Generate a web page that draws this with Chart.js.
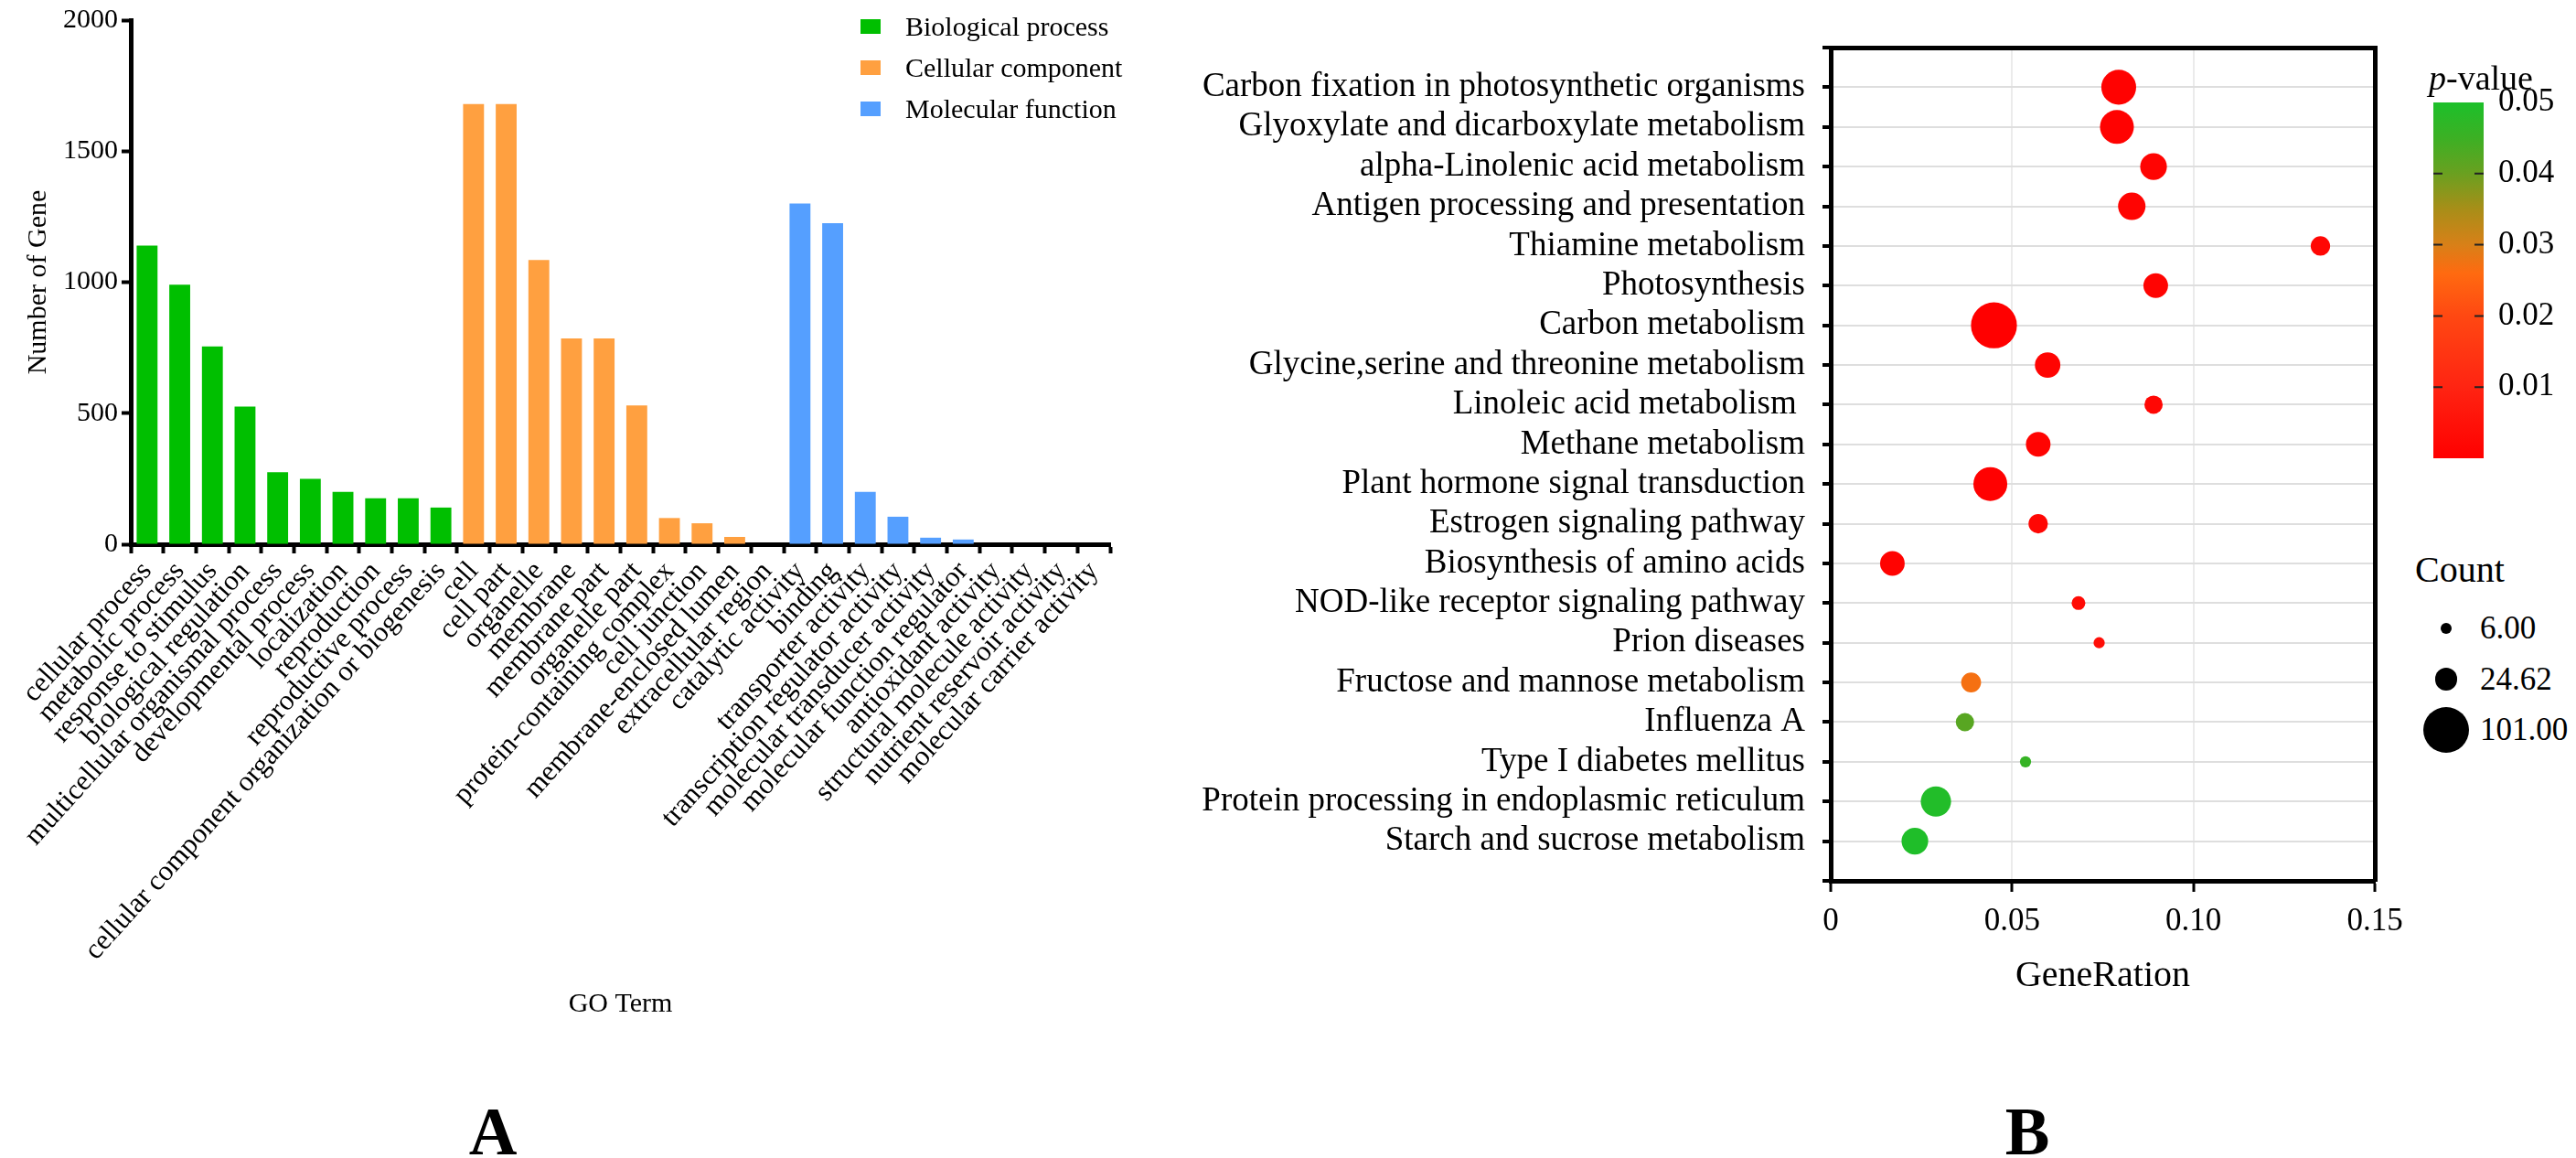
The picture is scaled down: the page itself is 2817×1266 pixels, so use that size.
<!DOCTYPE html>
<html>
<head>
<meta charset="utf-8">
<title>GO and KEGG</title>
<script src="https://cdn.jsdelivr.net/npm/chart.js@4.4.1/dist/chart.umd.min.js"></script>
<style>
  html, body { margin: 0; padding: 0; background: #fff; }
  body { width: 2817px; height: 1266px; position: relative; overflow: hidden;
         font-family: 'Liberation Serif', 'Times New Roman', serif; color: #000; }
  canvas { position: absolute; }
  #goChart { left: 0; top: 0; }
  #keggChart { left: 1230px; top: 0; }
  #pBar { left: 2640px; top: 60px; }
  .abs { position: absolute; white-space: nowrap; }
  .panel { font-size: 73px; font-weight: bold; line-height: 1; transform: translate(-50%, -50%); }
  .legRow { position: absolute; left: 0; height: 45px; line-height: 45px; font-size: 30px; }
  .legBox { position: absolute; left: 0; top: 15px; width: 22px; height: 16px; }
  .legText { position: absolute; left: 49px; top: 0; }
</style>
</head>
<body>
<canvas id="goChart" width="1240" height="1140"></canvas>
<div id="goLegend" class="abs" style="left:941px; top:6px;"></div>
<canvas id="keggChart" width="1410" height="1110"></canvas>
<canvas id="pBar" width="170" height="470"></canvas>
<div class="abs" style="left:2656px; top:62px; font-size:38px; line-height:46px;"><i>p</i>-value</div>
<div class="abs" style="left:2641px; top:599px; font-size:40px; line-height:48px;">Count</div>
<div id="countLegend"></div>
<div class="abs panel" style="left:539px; top:1237px;">A</div>
<div class="abs panel" style="left:2217px; top:1237px;">B</div>

<script>
// ---- panel A: GO terms ----
const termsBP = ["cellular process", "metabolic process", "response to stimulus", "biological regulation",
  "multicellular organismal process", "developmental process", "localization", "reproduction",
  "reproductive process", "cellular component organization or biogenesis"];
const countsBP = [1140, 990, 755, 525, 275, 250, 200, 175, 175, 140];

const termsCC = ["cell", "cell part", "organelle", "membrane", "membrane part", "organelle part",
  "protein-containing complex", "cell junction", "membrane-enclosed lumen", "extracellular region"];
const countsCC = [1680, 1680, 1085, 785, 785, 530, 100, 80, 28, 0];

const termsMF = ["catalytic activity", "binding", "transporter activity", "transcription regulator activity",
  "molecular transducer activity", "molecular function regulator", "antioxidant activity",
  "structural molecule activity", "nutrient reservoir activity", "molecular carrier activity"];
const countsMF = [1300, 1225, 200, 105, 25, 18, 0, 0, 0, 0];

const goTicks = [0, 500, 1000, 1500, 2000];

// ---- panel B: KEGG enrichment ----
const pathways = ["Carbon fixation in photosynthetic organisms", "Glyoxylate and dicarboxylate metabolism",
  "alpha-Linolenic acid metabolism", "Antigen processing and presentation", "Thiamine metabolism",
  "Photosynthesis", "Carbon metabolism", "Glycine,serine and threonine metabolism",
  "Linoleic acid metabolism ", "Methane metabolism", "Plant hormone signal transduction",
  "Estrogen signaling pathway", "Biosynthesis of amino acids", "NOD-like receptor signaling pathway",
  "Prion diseases", "Fructose and mannose metabolism", "Influenza A", "Type I diabetes mellitus",
  "Protein processing in endoplasmic reticulum", "Starch and sucrose metabolism"];
const geneRatio = [0.0794, 0.0789, 0.089, 0.083, 0.135, 0.0896, 0.045, 0.0598, 0.089, 0.0572,
  0.044, 0.0572, 0.017, 0.0683, 0.074, 0.0387, 0.037, 0.0537, 0.029, 0.0232];
const geneCount = [58, 55, 34, 36, 18, 29, 101, 31, 16, 29, 55, 18, 29, 9, 6, 19, 16, 6, 44, 34];
const pValue = [0.0005, 0.0006, 0.001, 0.001, 0.002, 0.001, 0.0001, 0.001, 0.002, 0.001,
  0.0004, 0.002, 0.0008, 0.003, 0.004, 0.027, 0.042, 0.046, 0.049, 0.0495];
const ratioTickLabels = ["0", "0.05", "0.10", "0.15"];
const pTickLabels = ["0.01", "0.02", "0.03", "0.04", "0.05"];
const countLegend = [6.00, 24.62, 101.00];

// colour ramp of the p-value bar (style)
const pStops = [[0, "#ff0000"], [0.01, "#ff2412"], [0.02, "#ff4812"], [0.026, "#ff6a10"],
  [0.03, "#d88018"], [0.035, "#a88e18"], [0.04, "#6aa020"], [0.045, "#3cb024"], [0.05, "#1cc02a"]];

Chart.defaults.font.family = "'Liberation Serif', 'Times New Roman', serif";
Chart.defaults.color = "#000";

function hex(c) { return [1, 3, 5].map(i => parseInt(c.substr(i, 2), 16)); }
function pColor(p) {
  for (let i = 1; i < pStops.length; i++) {
    if (p <= pStops[i][0]) {
      const [p0, c0] = pStops[i - 1], [p1, c1] = pStops[i];
      const t = (p - p0) / (p1 - p0), a = hex(c0), b = hex(c1);
      return "rgb(" + a.map((v, k) => Math.round(v + (b[k] - v) * t)).join(",") + ")";
    }
  }
  return pStops[pStops.length - 1][1];
}
function bubbleR(n) { return 2.5 * Math.sqrt(n); }

// ---------- chart A ----------
const goLabels = termsBP.concat(termsCC, termsMF);
function place(vals, before, total) {
  const out = new Array(total).fill(null);
  vals.forEach((v, i) => { out[before + i] = v; });
  return out;
}

const goChart = new Chart(document.getElementById("goChart"), {
  type: "bar",
  data: {
    labels: goLabels,
    datasets: [
      { label: "Biological process", data: place(countsBP, 0, goLabels.length), backgroundColor: "#00bf00" },
      { label: "Cellular component", data: place(countsCC, termsBP.length, goLabels.length), backgroundColor: "#ffa040" },
      { label: "Molecular function", data: place(countsMF, termsBP.length + termsCC.length, goLabels.length), backgroundColor: "#559fff" },
    ],
  },
  options: {
    responsive: false,
    animation: false,
    layout: { padding: { left: 0, top: 21, right: 26, bottom: 0 } },
    plugins: { legend: { display: false }, tooltip: { enabled: false } },
    datasets: { bar: { grouped: false, barPercentage: 0.64, categoryPercentage: 1, borderWidth: 0 } },
    scales: {
      x: {
        type: "category",
        offset: true,
        grid: { drawOnChartArea: false, tickLength: 10, tickWidth: 4, tickColor: "#000" },
        border: { width: 5, color: "#000" },
        ticks: { autoSkip: false, maxRotation: 48, minRotation: 48, padding: 2, font: { size: 31 } },
        title: { display: true, text: "GO Term", font: { size: 30 }, padding: { top: 0, bottom: 24 } },
        afterFit: (s) => { s.height = 545; },
      },
      y: {
        min: goTicks[0],
        max: goTicks[goTicks.length - 1],
        afterBuildTicks: (s) => { s.ticks = goTicks.map(v => ({ value: v })); },
        ticks: { padding: 4, font: { size: 30 }, callback: (v) => String(v) },
        grid: { drawOnChartArea: false, tickLength: 10, tickWidth: 4, tickColor: "#000" },
        border: { width: 5, color: "#000" },
        title: { display: true, text: "Number of Gene", font: { size: 30 }, padding: { top: 24, bottom: 0 } },
        afterFit: (s) => { s.width = 143; },
      },
    },
  },
});

// html legend for A, built from the datasets
const legEl = document.getElementById("goLegend");
goChart.data.datasets.forEach((ds, i) => {
  const row = document.createElement("div");
  row.className = "legRow";
  row.style.top = (i * 45) + "px";
  row.innerHTML = '<span class="legBox" style="background:' + ds.backgroundColor + '"></span>' +
    '<span class="legText">' + ds.label + "</span>";
  legEl.appendChild(row);
});

// ---------- chart B ----------
const bubbles = pathways.map((name, i) => ({ x: geneRatio[i], y: i, r: bubbleR(geneCount[i]) }));

new Chart(document.getElementById("keggChart"), {
  type: "bubble",
  data: {
    datasets: [{
      data: bubbles,
      backgroundColor: pValue.map(pColor),
      borderWidth: 0,
    }],
  },
  options: {
    responsive: false,
    animation: false,
    layout: { padding: { left: 0, top: 52, right: 43, bottom: 0 } },
    plugins: { legend: { display: false }, tooltip: { enabled: false } },
    scales: {
      x: {
        type: "linear",
        position: "bottom",
        min: 0,
        max: 0.15,
        ticks: { stepSize: 0.05, callback: (v, i) => ratioTickLabels[i], font: { size: 35 }, padding: 12 },
        grid: {
          color: (c) => (c.tick && c.tick.value > 0.001 && c.tick.value < 0.149) ? "#ebebeb" : "rgba(0,0,0,0)",
          lineWidth: 2, tickLength: 12, tickWidth: 3, tickColor: "#000",
        },
        border: { width: 5, color: "#000" },
        title: { display: true, text: "GeneRation", font: { size: 40 }, padding: { top: 0, bottom: 19 } },
        afterFit: (s) => { s.height = 147; },
      },
      y: {
        type: "linear",
        position: "left",
        reverse: true,
        min: -1,
        max: pathways.length,
        afterBuildTicks: (s) => {
          s.ticks = [];
          for (let i = -1; i <= pathways.length; i++) s.ticks.push({ value: i });
        },
        ticks: { autoSkip: false, callback: (v) => pathways[v] ?? "", font: { size: 37 }, padding: 19 },
        grid: {
          color: (c) => (c.tick && c.tick.value >= 0 && c.tick.value < pathways.length) ? "#dedede" : "rgba(0,0,0,0)",
          lineWidth: 2, tickLength: 9, tickWidth: 4, tickColor: "#000",
        },
        border: { width: 5, color: "#000" },
        afterFit: (s) => { s.width = 772; },
      },
      xTop: {
        type: "linear", position: "top",
        ticks: { display: false }, grid: { display: false },
        border: { width: 5, color: "#000" },
        afterFit: (s) => { s.height = 0; },
      },
      yRight: {
        type: "linear", position: "right",
        ticks: { display: false }, grid: { display: false },
        border: { width: 5, color: "#000" },
        afterFit: (s) => { s.width = 0; },
      },
    },
  },
});

// ---------- p-value colour bar ----------
const innerTicks = {
  id: "innerTicks",
  afterDatasetsDraw(chart) {
    const { ctx, chartArea: a, scales: { y } } = chart;
    ctx.save();
    ctx.strokeStyle = "#222";
    ctx.lineWidth = 2;
    y.ticks.filter(t => t.value > y.min && t.value < y.max - 1e-9).forEach(t => {
      const py = y.getPixelForValue(t.value);
      ctx.beginPath();
      ctx.moveTo(a.left, py); ctx.lineTo(a.left + 10, py);
      ctx.moveTo(a.right - 10, py); ctx.lineTo(a.right, py);
      ctx.stroke();
    });
    ctx.restore();
  },
};

new Chart(document.getElementById("pBar"), {
  type: "bar",
  data: {
    labels: ["p"],
    datasets: [{
      data: [[0, 0.05]],
      backgroundColor: (c) => {
        const a = c.chart.chartArea;
        if (!a) return "#ff0000";
        const g = c.chart.ctx.createLinearGradient(0, a.bottom, 0, a.top);
        pStops.forEach(([p, col]) => g.addColorStop(p / 0.05, col));
        return g;
      },
      barPercentage: 1,
      categoryPercentage: 1,
      borderWidth: 0,
    }],
  },
  options: {
    responsive: false,
    animation: false,
    layout: { padding: { left: 21, top: 52, right: 0, bottom: 23 } },
    plugins: { legend: { display: false }, tooltip: { enabled: false } },
    scales: {
      x: { display: false },
      y: {
        position: "right",
        min: 0,
        max: 0.05,
        ticks: { stepSize: 0.01, callback: (v) => pTickLabels[Math.round(v * 100) - 1] ?? "", font: { size: 35 }, padding: 8 },
        grid: { display: false },
        border: { display: false },
        afterFit: (s) => { s.width = 94; },
      },
    },
  },
  plugins: [innerTicks],
});

// ---------- count size legend ----------
const cl = document.getElementById("countLegend");
countLegend.forEach((n, i) => {
  const cy = 687 + i * 55.5;
  const r = bubbleR(n);
  const dot = document.createElement("div");
  dot.className = "abs";
  dot.style.cssText = "left:" + (2675 - r) + "px;top:" + (cy - r) + "px;width:" + (2 * r) + "px;height:" + (2 * r) + "px;border-radius:50%;background:#000;";
  cl.appendChild(dot);
  const t = document.createElement("div");
  t.className = "abs";
  t.style.cssText = "left:2712px;top:" + (cy - 21) + "px;font-size:35px;line-height:42px;";
  t.textContent = n.toFixed(2);
  cl.appendChild(t);
});
</script>
</body>
</html>
